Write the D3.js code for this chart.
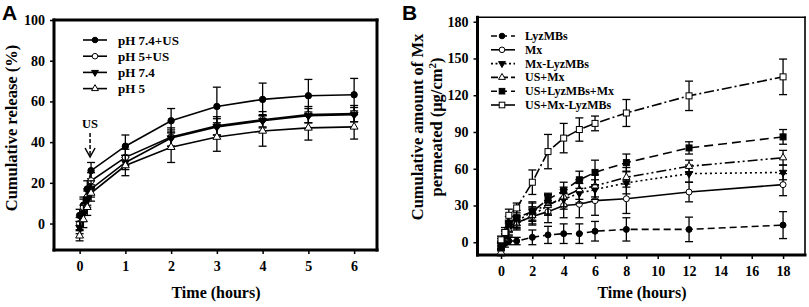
<!DOCTYPE html>
<html>
<head>
<meta charset="utf-8">
<script src="https://cdn.jsdelivr.net/npm/d3@7"></script>
<style>
  body { margin: 0; background: #fff; }
  svg { display: block; }
  .tick text { font-family: "Liberation Serif", "Times New Roman", serif; font-weight: bold; fill: #000; }
</style>
</head>
<body>
<svg width="809" height="307"></svg>
<script>
// ---- panel A data ----
const timesA = [0, 0.083, 0.167, 0.25, 1, 2, 3, 4, 5, 6];
const namesA = ['pH 7.4+US', 'pH 5+US', 'pH 7.4', 'pH 5'];
const valuesA = [
    [4, 9, 17, 26, 38, 50.5, 57.5, 61, 62.8, 63.3],
    [0, 8, 13, 21, 32.5, 42.5, 48, 51, 53.5, 54],
    [-2, 5, 12, 17, 30, 42, 47.5, 50.5, 53, 53.5],
    [-6, 2, 8, 15, 28.5, 37.5, 42.5, 45.5, 47, 47.5],
];
const errorsA = [
    [3, 4, 4, 4, 5.5, 6, 9.5, 8, 8, 8],
    [3, 4, 4, 4, 4, 4.5, 4.5, 4, 4, 4],
    [3, 4, 4, 4, 3.5, 4, 4, 3, 3.5, 3.5],
    [2.5, 4, 4, 4, 5, 7.5, 7, 7.5, 6, 6],
];
const xTicksA = [0, 1, 2, 3, 4, 5, 6];
const yTicksA = [0, 20, 40, 60, 80, 100];

// ---- panel B data ----
const timesB = [0, 0.25, 0.5, 1, 2, 3, 4, 5, 6, 8, 12, 18];
const namesB = ['LyzMBs', 'Mx', 'Mx-LyzMBs', 'US+Mx', 'US+LyzMBs+Mx', 'US+Mx-LyzMBs'];
const valuesB = [
    [-3, -1, 1, 1, 4, 6, 7, 7, 9, 10.5, 10.5, 14],
    [0, 5, 13, 16, 21, 25, 30, 31, 34, 35.5, 41, 47],
    [-2, 3, 11, 17, 25, 31, 35, 40, 43, 48.5, 56, 57],
    [-8, 3, 10, 15, 22, 30, 37, 43, 46, 53, 62, 69],
    [-4, 5, 15, 20, 25, 35, 42, 51, 57, 65, 77, 86],
    [2, 8, 22, 28, 49, 74, 85, 92, 97, 105.5, 119.5, 135],
];
const errorsB = [
    [3, 3, 3, 3, 6, 7, 8, 8, 8, 9.5, 10, 11],
    [3, 4, 5, 5, 7, 9, 10, 11, 12, 12, 8, 9],
    [3, 4, 5, 5, 7, 8, 8, 8, 8, 9, 7, 6],
    [3, 4, 5, 5, 7, 8, 8, 8, 9, 8, 5, 6],
    [3, 5, 6, 6, 8, 5, 7, 7, 10, 7, 5, 6],
    [3, 4, 5, 4, 10, 14, 12, 9.5, 6, 11, 12, 14.5],
];
const xTicksB = [0, 2, 4, 6, 8, 10, 12, 14, 16, 18];
const yTicksB = [0, 30, 60, 90, 120, 150, 180];

const serif = '"Liberation Serif", "Times New Roman", serif';
const svg = d3.select('svg');

// marker drawing: kind = circle / tri-down / tri-up / square, filled or open
function marker(g, kind, filled, x, y, s) {
    const fill = filled ? '#000' : '#fff';
    if (kind === 'circle') {
        g.append('circle').attr('cx', x).attr('cy', y).attr('r', s)
            .attr('fill', fill).attr('stroke', '#000').attr('stroke-width', 1);
    } else if (kind === 'square') {
        g.append('rect').attr('x', x - s).attr('y', y - s).attr('width', 2 * s).attr('height', 2 * s)
            .attr('fill', fill).attr('stroke', '#000').attr('stroke-width', 1);
    } else {
        const rot = kind === 'tri-down' ? 180 : 0;
        g.append('path')
            .attr('d', d3.symbol().type(d3.symbolTriangle).size(s * s * 2.6)())
            .attr('transform', `translate(${x},${y}) rotate(${rot})`)
            .attr('fill', fill).attr('stroke', '#000').attr('stroke-width', 1);
    }
}

function drawAxes(g, x, y, xTicks, yTicks, frame, thin) {
    g.append('g')
        .attr('transform', `translate(0,${y.range()[0]})`)
        .call(d3.axisBottom(x).tickValues(xTicks).tickFormat(d3.format('d')).tickSize(4).tickPadding(7))
        .call(a => a.select('.domain').remove())
        .call(a => a.selectAll('line').attr('stroke-width', 1.5))
        .call(a => a.selectAll('text').style('font-size', '14px'));
    g.append('g')
        .attr('transform', `translate(${x.range()[0]},0)`)
        .call(d3.axisLeft(y).tickValues(yTicks).tickFormat(d3.format('d')).tickSize(4).tickPadding(5))
        .call(a => a.select('.domain').remove())
        .call(a => a.selectAll('line').attr('stroke-width', 1.5))
        .call(a => a.selectAll('text').style('font-size', '14px'));

    const [x0, x1] = x.range(), [y0, y1] = y.range();
    const box = g.append('g').attr('stroke', '#000').attr('fill', 'none').attr('stroke-linecap', 'square');
    box.append('line').attr('x1', x0).attr('x2', x1).attr('y1', y0).attr('y2', y0).attr('stroke-width', frame);
    box.append('line').attr('x1', x0).attr('x2', x0).attr('y1', y0).attr('y2', y1).attr('stroke-width', frame);
    box.append('line').attr('x1', x0).attr('x2', x1).attr('y1', y1).attr('y2', y1).attr('stroke-width', thin);
    box.append('line').attr('x1', x1).attr('x2', x1).attr('y1', y0).attr('y2', y1).attr('stroke-width', thin);
}

function drawSeries(g, x, y, times, vals, errs, st, ms, cap) {
    const line = d3.line().x((d, i) => x(times[i])).y(d => y(d));
    const eb = g.append('g').attr('stroke', '#000').attr('stroke-width', 1.3);
    vals.forEach((v, i) => {
        const cx = x(times[i]);
        eb.append('line').attr('x1', cx).attr('x2', cx).attr('y1', y(v - errs[i])).attr('y2', y(v + errs[i]));
        eb.append('line').attr('x1', cx - cap).attr('x2', cx + cap).attr('y1', y(v - errs[i])).attr('y2', y(v - errs[i]));
        eb.append('line').attr('x1', cx - cap).attr('x2', cx + cap).attr('y1', y(v + errs[i])).attr('y2', y(v + errs[i]));
    });
    g.append('path').datum(vals).attr('d', line)
        .attr('fill', 'none').attr('stroke', '#000').attr('stroke-width', 1.6)
        .attr('stroke-dasharray', st.dash);
    const mg = g.append('g');
    vals.forEach((v, i) => marker(mg, st.kind, st.filled, x(times[i]), y(v), ms));
}

// ================= panel A =================
const xA = d3.scaleLinear().domain([-0.56, 6.5]).range([54, 377]);
const yA = d3.scaleLinear().domain([-13, 100]).range([250, 20]);
const gA = svg.append('g');
const stylesA = [
    { kind: 'circle', filled: true, dash: null },
    { kind: 'circle', filled: false, dash: null },
    { kind: 'tri-down', filled: true, dash: null },
    { kind: 'tri-up', filled: false, dash: null },
];
drawAxes(gA, xA, yA, xTicksA, yTicksA, 3, 3);
valuesA.forEach((v, k) => drawSeries(gA, xA, yA, timesA, v, errorsA[k], stylesA[k], 3.2, 4));

// legend A
namesA.forEach((n, k) => {
    const ly = 40 + k * 16.2;
    gA.append('line').attr('x1', 83).attr('x2', 107).attr('y1', ly).attr('y2', ly)
        .attr('stroke', '#000').attr('stroke-width', 1.6);
    marker(gA, stylesA[k].kind, stylesA[k].filled, 95, ly, 2.8);
    gA.append('text').attr('x', 118).attr('y', ly + 4.5)
        .attr('font-family', serif).attr('font-weight', 'bold').attr('font-size', '13px').text(n);
});

// US arrow
const usX = xA(0.25) - 1;
gA.append('text').attr('x', usX).attr('y', 128).attr('text-anchor', 'middle')
    .attr('font-family', serif).attr('font-weight', 'bold').attr('font-size', '12.5px').text('US');
gA.append('line').attr('x1', usX).attr('x2', usX).attr('y1', 133).attr('y2', 156)
    .attr('stroke', '#000').attr('stroke-width', 1.5).attr('stroke-dasharray', '4,2');
gA.append('path').attr('d', `M${usX - 5},148 L${usX},157 L${usX + 5},148`)
    .attr('fill', 'none').attr('stroke', '#000').attr('stroke-width', 1.5);

gA.append('text').attr('transform', 'translate(17,128) rotate(-90)').attr('text-anchor', 'middle')
    .attr('font-family', serif).attr('font-weight', 'bold').attr('font-size', '16.5px')
    .text('Cumulative release (%)');
gA.append('text').attr('x', 216).attr('y', 298).attr('text-anchor', 'middle')
    .attr('font-family', serif).attr('font-weight', 'bold').attr('font-size', '16px')
    .text('Time (hours)');
gA.append('text').attr('x', 2).attr('y', 20)
    .attr('font-family', '"Liberation Sans", Arial, sans-serif').attr('font-weight', 'bold')
    .attr('font-size', '21px').text('A');

// ================= panel B =================
const xB = d3.scaleLinear().domain([-1.5, 19.4]).range([477.5, 805]);
const yB = d3.scaleLinear().domain([-10.4, 183.6]).range([255, 17.3]);
const gB = svg.append('g');
const stylesB = [
    { kind: 'circle', filled: true, dash: '7,4' },
    { kind: 'circle', filled: false, dash: null },
    { kind: 'tri-down', filled: true, dash: '2,3' },
    { kind: 'tri-up', filled: false, dash: '10,3,2,3,2,3' },
    { kind: 'square', filled: true, dash: '9,5' },
    { kind: 'square', filled: false, dash: '10,3,2,3' },
];
drawAxes(gB, xB, yB, xTicksB, yTicksB, 3, 1.6);
valuesB.forEach((v, k) => drawSeries(gB, xB, yB, timesB, v, errorsB[k], stylesB[k], 3, 4));

// legend B
namesB.forEach((n, k) => {
    const ly = 36 + k * 13.8;
    gB.append('line').attr('x1', 491).attr('x2', 515).attr('y1', ly).attr('y2', ly)
        .attr('stroke', '#000').attr('stroke-width', 1.6)
        .attr('stroke-dasharray', k === 2 ? '2,2.5' : (k === 0 || k === 4 ? '6,4' : (k === 3 ? '7,3' : null)));
    marker(gB, stylesB[k].kind, stylesB[k].filled, 502, ly, 2.8);
    gB.append('text').attr('x', 525).attr('y', ly + 4)
        .attr('font-family', serif).attr('font-weight', 'bold').attr('font-size', '12px').text(n);
});

const yt = gB.append('text').attr('transform', 'translate(423,127) rotate(-90)').attr('text-anchor', 'middle')
    .attr('font-family', serif).attr('font-weight', 'bold').attr('font-size', '16.5px');
yt.append('tspan').attr('x', 0).attr('dy', 0).text('Cumulative amount of Mx');
yt.append('tspan').attr('x', 0).attr('dy', 19).text('permeated (μg/cm');
yt.append('tspan').attr('dy', -6).attr('font-size', '11px').text('2');
yt.append('tspan').attr('dy', 6).text(')');
gB.append('text').attr('x', 642).attr('y', 298).attr('text-anchor', 'middle')
    .attr('font-family', serif).attr('font-weight', 'bold').attr('font-size', '16px')
    .text('Time (hours)');
gB.append('text').attr('x', 402).attr('y', 20)
    .attr('font-family', '"Liberation Sans", Arial, sans-serif').attr('font-weight', 'bold')
    .attr('font-size', '21px').text('B');
</script>
</body>
</html>
